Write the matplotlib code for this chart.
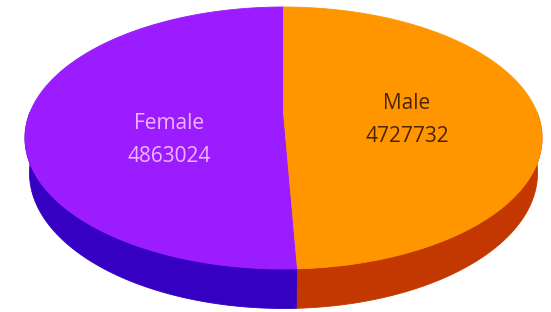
import numpy as np
import matplotlib.pyplot as plt
from matplotlib.patches import Polygon

labels = ['Female', 'Male']
values = [4863024, 4727732]
top_colors = ['#9a1cff', '#ff9600']
side_colors = ['#3500c2', '#c23800']
text_colors = ['#f0b4ff', '#4a2600']

# simple perspective camera for a flat cylinder
elev = np.radians(30)
dist = 4.5
h = 0.15


def project(t, z):
    t = np.radians(t)
    X, Y = np.cos(t), np.sin(t)
    d = Y * np.cos(elev) - z * np.sin(elev) + dist
    return X / d, (Y * np.sin(elev) + z * np.cos(elev)) / d


# fit the top face into the target pixel box
tt = np.linspace(0, 360, 721)
px, py = project(tt, h)
left, right, top, bottom = 25, 542, 7, 269
sx = (right - left) / (px.max() - px.min())
sy = (bottom - top) / (py.max() - py.min())


def to_px(t, z):
    x, y = project(t, z)
    return np.column_stack([left + (x - px.min()) * sx, top + (py.max() - y) * sy])


fig = plt.figure(figsize=(5.51, 3.12), dpi=100)
ax = fig.add_axes([0, 0, 1, 1])
ax.set_xlim(0, 551)
ax.set_ylim(312, 0)
ax.axis('off')

fracs = np.array(values) / sum(values)
start = 90.0
spans = []
for f in fracs:
    spans.append((start, start + 360 * f))
    start += 360 * f

# side walls (front half)
for (t0, t1), col in zip(spans, side_colors):
    for lo, hi in [(180, 360), (540, 720)]:
        s, e = max(t0, lo), min(t1, hi)
        if e > s:
            ts = np.linspace(s, e, 120)
            pts = np.vstack([to_px(ts, h), to_px(ts[::-1], 0)])
            ax.add_patch(Polygon(pts, closed=True, facecolor=col, edgecolor=col, lw=0.6))

# top faces
d0 = -h * np.sin(elev) + dist
cpt = [left + (0 - px.min()) * sx, top + (py.max() - h * np.cos(elev) / d0) * sy]
for (t0, t1), col in zip(spans, top_colors):
    ts = np.linspace(t0, t1, 240)
    pts = np.vstack([cpt, to_px(ts, h)])
    ax.add_patch(Polygon(pts, closed=True, facecolor=col, edgecolor=col, lw=0.6))

# labels
label_pos = [(169, 140), (407, 120)]
for lab, v, tc, (x, y) in zip(labels, values, text_colors, label_pos):
    ax.text(x, y, f'{lab}\n{v}', ha='center', va='center',
            color=tc, fontsize=15, family='Open Sans', linespacing=1.75)

fig.savefig('out.png', dpi=100)
